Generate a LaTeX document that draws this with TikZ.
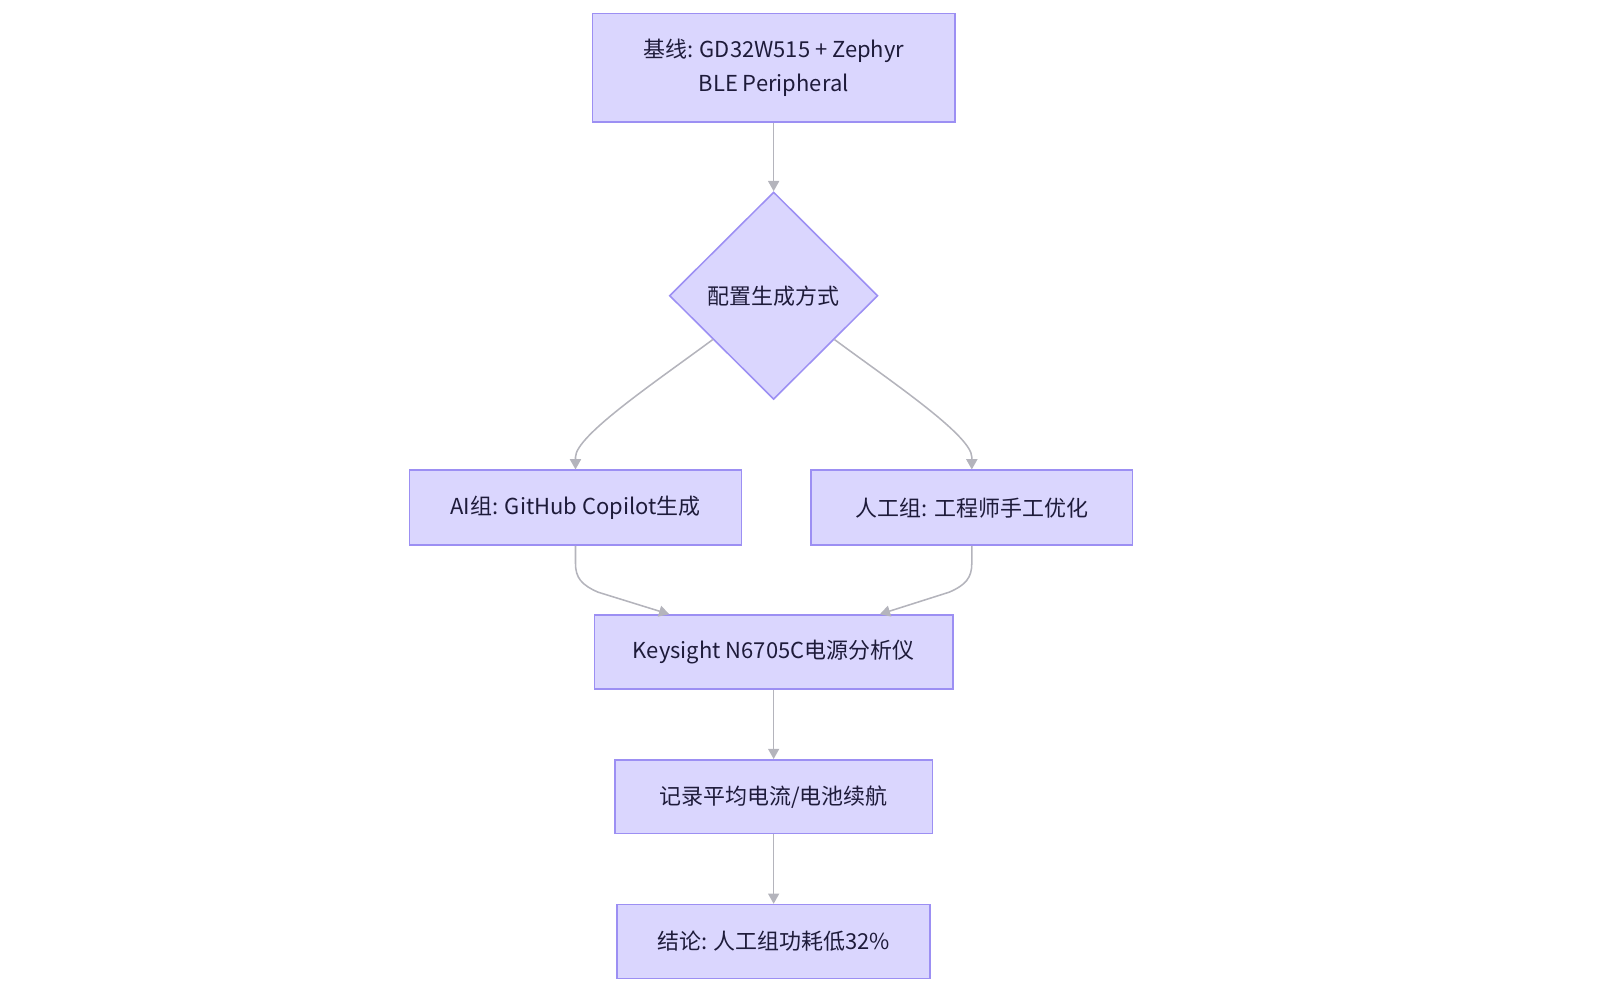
\documentclass[tikz,border=0pt]{standalone}
\usepackage{fontspec}
\setmainfont{Noto Sans CJK SC}
\usetikzlibrary{arrows.meta,shapes,positioning,calc}
\usepackage{xcolor}
\definecolor{boxfill}{HTML}{DAD6FE}
\definecolor{boxline}{HTML}{9C8FF3}
\definecolor{boxtext}{HTML}{1E1B3A}
\definecolor{edgegray}{HTML}{B4B4BC}

\begin{document}
\begin{tikzpicture}[x=0.5pt, y=-0.5pt,
    box/.style={draw=boxline, fill=boxfill, line width=0.75pt, text=boxtext,
        font=\fontsize{10.7}{16.5}\selectfont, align=center, inner sep=0pt, minimum height=36pt},
    choice/.style={box, diamond, aspect=1, minimum width=101.5pt, minimum height=101pt},
    edge/.style={draw=edgegray, line width=0.75pt, -{Triangle[length=5pt,width=5.4pt]}}]
    \useasboundingbox (0,0) rectangle (1571,969);

    % Baseline and decision
    \node[box, minimum width=176.5pt, minimum height=53pt] (base) at (753.5,66) {基线: GD32W515 + Zephyr\\BLE Peripheral};
    \node[choice] (cfg) at (753.5,288) {配置生成方式};

    % Two groups
    \node[box, minimum width=161.5pt, minimum height=36.5pt] (ai) at (560.5,494.5) {AI组: GitHub Copilot生成};
    \node[box, minimum width=156.5pt, minimum height=36.5pt] (hum) at (946.5,494.5) {人工组: 工程师手工优化};

    % Measurement and result
    \node[box, minimum width=174.5pt] (meter) at (753.5,635) {Keysight N6705C电源分析仪};
    \node[box, minimum width=154.5pt] (log) at (753.5,776) {记录平均电流/电池续航};
    \node[box, minimum width=152.5pt] (result) at (753.5,917) {结论: 人工组功耗低32\%};

    % Connectors
    \draw[edge] (base) -- (cfg);
    \draw[edge] ($(cfg.west)!0.42!(cfg.south)$) .. controls ($(ai.north)+(79,-86)$) and ($(ai.north)+(0,-33)$) .. ($(ai.north)+(0,-12)$) -- (ai.north);
    \draw[edge] ($(cfg.east)!0.42!(cfg.south)$) .. controls ($(hum.north)+(-79,-86)$) and ($(hum.north)+(0,-33)$) .. ($(hum.north)+(0,-12)$) -- (hum.north);
    \draw[edge] (ai.south) -- ++(0,17) .. controls ($(ai.south)+(0,31)$) and ($(ai.south)+(6,38)$) .. ($(ai.south)+(22,45)$) -- ($(meter.north west)!0.21!(meter.north east)$);
    \draw[edge] (hum.south) -- ++(0,17) .. controls ($(hum.south)+(0,31)$) and ($(hum.south)+(-6,38)$) .. ($(hum.south)+(-22,45)$) -- ($(meter.north west)!0.795!(meter.north east)$);
    \draw[edge] (meter) -- (log);
    \draw[edge] (log) -- (result);

\end{tikzpicture}
\end{document}
